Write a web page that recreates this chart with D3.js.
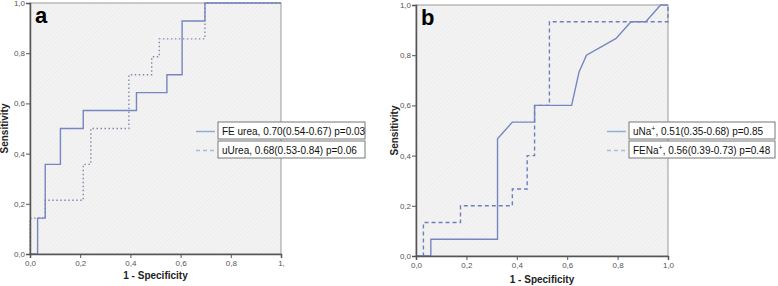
<!DOCTYPE html>
<html>
<head>
<meta charset="utf-8">
<script src="https://cdn.jsdelivr.net/npm/d3@7"></script>
<style>
  body { margin: 0; background: #fff; }
  svg { display: block; }
  .tick text { font-family: "Liberation Sans", Arial, sans-serif; font-size: 8px; fill: #555; }
  .tick line { stroke: #555; }
  .domain { stroke: #555; }
  .axTitle { font-family: "Liberation Sans", Arial, sans-serif; font-size: 10px; font-weight: bold; fill: #222; }
  .legText { font-family: "Liberation Sans", Arial, sans-serif; font-size: 10px; fill: #111; }
</style>
</head>
<body>
<div id="chart"></div>
<script>
// ticks shared by both panels
const tickVals = [0, 0.2, 0.4, 0.6, 0.8, 1];

// panel a : FE urea (solid) - 14 positives / 33 negatives
const feUreaX = [0, 1/33, 1/33, 2/33, 2/33, 4/33, 4/33, 7/33, 7/33, 14/33, 14/33, 18/33, 18/33, 20/33, 20/33, 23/33, 23/33, 1];
const feUreaY = [0, 0, 2/14, 2/14, 5/14, 5/14, 7/14, 7/14, 8/14, 8/14, 9/14, 9/14, 10/14, 10/14, 13/14, 13/14, 1, 1];
// panel a : uUrea (dotted)
const uUreaX = [0, 0, 2/33, 2/33, 7/33, 7/33, 8/33, 8/33, 13/33, 13/33, 16/33, 16/33, 17/33, 17/33, 23/33, 23/33, 1];
const uUreaY = [0, 2/14, 2/14, 3/14, 3/14, 5/14, 5/14, 7/14, 7/14, 10/14, 10/14, 11/14, 11/14, 12/14, 12/14, 1, 1];

// panel b : uNa+ (solid) - 15 positives / 34 negatives
const uNaX = [0, 2/34, 2/34, 11/34, 11/34, 13/34, 16/34, 16/34, 21/34, 22/34, 23/34, 27/34, 29/34, 31/34, 33/34, 1];
const uNaY = [0, 0, 1/15, 1/15, 7/15, 8/15, 8/15, 9/15, 9/15, 11/15, 12/15, 13/15, 14/15, 14/15, 1, 1];
// panel b : FENa+ (dashed)
const feNaX = [0, 1/34, 1/34, 6/34, 6/34, 13/34, 13/34, 15/34, 15/34, 16/34, 16/34, 18/34, 18/34, 1, 1];
const feNaY = [0, 0, 2/15, 2/15, 3/15, 3/15, 4/15, 4/15, 6/15, 6/15, 9/15, 9/15, 14/15, 14/15, 1];

const legendA = [
	{ name: "FE urea", sup: "", rest: ", 0.70(0.54-0.67) p=0.03", dash: null },
	{ name: "uUrea", sup: "", rest: ", 0.68(0.53-0.84) p=0.06", dash: "4,3" }
];
const legendB = [
	{ name: "uNa", sup: "+", rest: ", 0.51(0.35-0.68) p=0.85", dash: null },
	{ name: "FENa", sup: "+", rest: ", 0.56(0.39-0.73) p=0.48", dash: "4,3" }
];

const svg = d3.select("#chart").append("svg")
	.attr("width", 778)
	.attr("height", 286);

// light hatched plot background
let pat = svg.append("defs").append("pattern")
	.attr("id", "hatch")
	.attr("patternUnits", "userSpaceOnUse")
	.attr("width", 3)
	.attr("height", 3)
	.attr("patternTransform", "rotate(45)");
pat.append("rect").attr("width", 3).attr("height", 3).attr("fill", "#f3f3f3");
pat.append("line").attr("x1", 0).attr("y1", 0).attr("x2", 0).attr("y2", 3)
	.attr("stroke", "#e8e8e8").attr("stroke-width", 1);

function zip(xs, ys){
	return xs.map((x, i) => [x, ys[i]]);
}

function drawPanel(opt){
	let xScale = d3.scaleLinear().domain([0, 1]).range([opt.x0, opt.x1]);
	let yScale = d3.scaleLinear().domain([0, 1]).range([opt.y0, opt.y1]);
	let g = svg.append("g");

	g.append("rect")
		.attr("x", opt.x0).attr("y", opt.y1)
		.attr("width", opt.x1 - opt.x0).attr("height", opt.y0 - opt.y1)
		.attr("fill", "url(#hatch)")
		.attr("stroke", "#999").attr("stroke-width", 1);

	let line = d3.line().x(d => xScale(d[0])).y(d => yScale(d[1]));

	opt.series.forEach(s => {
		g.append("path")
			.datum(zip(s.x, s.y))
			.attr("d", line)
			.attr("fill", "none")
			.attr("stroke", s.color)
			.attr("stroke-width", 1.4)
			.attr("stroke-dasharray", s.dash);
	});

	let fmt = d => (d === 1 && opt.lastTick) ? opt.lastTick : d3.format(".1f")(d).replace(".", ",");

	g.append("g")
		.attr("transform", `translate(0,${opt.y0})`)
		.call(d3.axisBottom(xScale).tickValues(tickVals).tickFormat(fmt).tickSize(4).tickPadding(2));
	g.append("g")
		.attr("transform", `translate(${opt.x0},0)`)
		.call(d3.axisLeft(yScale).tickValues(tickVals).tickFormat(d => d3.format(".1f")(d).replace(".", ",")).tickSize(4).tickPadding(1));

	g.selectAll(".domain").attr("stroke-width", 1.5);

	g.append("text").attr("class", "axTitle")
		.attr("x", (opt.x0 + opt.x1) / 2).attr("y", opt.xTitleY)
		.attr("text-anchor", "middle")
		.text("1 - Specificity");
	g.append("text").attr("class", "axTitle")
		.attr("transform", `translate(${opt.yTitleX},${(opt.y0 + opt.y1) / 2}) rotate(-90)`)
		.attr("text-anchor", "middle")
		.text("Sensitivity");

	g.append("text")
		.attr("x", opt.x0 + 5).attr("y", opt.y1 + 20)
		.attr("font-family", "Liberation Sans, Arial, sans-serif")
		.attr("font-size", 22).attr("font-weight", "bold")
		.text(opt.letter);

	// legend boxes
	opt.legend.forEach((d, i) => {
		let top = opt.legY + i * 19;
		g.append("line")
			.attr("x1", opt.legX - 22).attr("x2", opt.legX - 3)
			.attr("y1", top + 9.5).attr("y2", top + 9.5)
			.attr("stroke", d.dash ? "#a2bedc" : "#8fadd0")
			.attr("stroke-width", 1.5)
			.attr("stroke-dasharray", d.dash);
		g.append("rect")
			.attr("x", opt.legX).attr("y", top)
			.attr("width", opt.legW).attr("height", 17)
			.attr("fill", "#fff").attr("stroke", "#777").attr("stroke-width", 1);
		let t = g.append("text").attr("class", "legText")
			.attr("x", opt.legX + 4).attr("y", top + 12.5);
		t.append("tspan").text(d.name);
		if (d.sup) t.append("tspan").attr("font-size", 7).attr("dy", -4).text(d.sup);
		t.append("tspan").attr("dy", d.sup ? 4 : 0).text(d.rest);
	});
}

drawPanel({
	x0: 30, x1: 281, y0: 254, y1: 3,
	letter: "a", lastTick: "1,",
	xTitleY: 279, yTitleX: 8,
	legX: 218, legY: 122, legW: 147, legend: legendA,
	series: [
		{ x: uUreaX, y: uUreaY, color: "#858aa8", dash: "1.5,2.5" },
		{ x: feUreaX, y: feUreaY, color: "#7686c2", dash: null }
	]
});

drawPanel({
	x0: 416, x1: 668, y0: 256, y1: 5,
	letter: "b", lastTick: null,
	xTitleY: 283, yTitleX: 398,
	legX: 629, legY: 122, legW: 146, legend: legendB,
	series: [
		{ x: feNaX, y: feNaY, color: "#6e7fbc", dash: "4,3" },
		{ x: uNaX, y: uNaY, color: "#7686c2", dash: null }
	]
});
</script>
</body>
</html>
